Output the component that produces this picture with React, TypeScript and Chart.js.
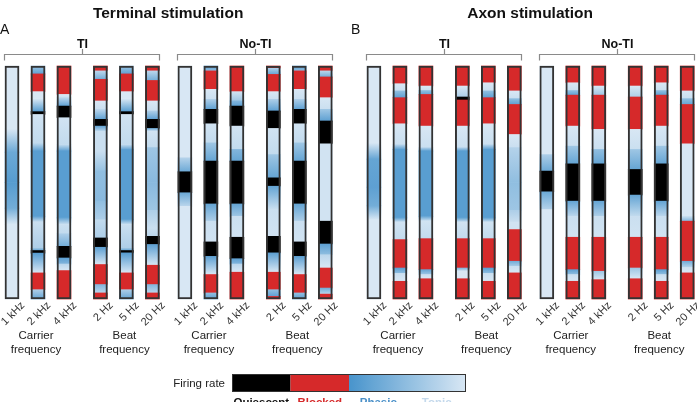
import React, { useEffect, useRef } from 'react';
import { Chart, registerables } from 'chart.js';
Chart.register(...registerables);

// Level codes: 'Q' = quiescent, 'B' = blocked, number 0..1 = phasic (0) .. tonic (1)
type Level = number | 'Q' | 'B';
// [end of segment (% of sweep, from top), level at top, level at bottom (optional)]
type Seg = [number, Level, Level?];

const panelTitles = ['Terminal stimulation', 'Axon stimulation'];
const panelLetters = ['A', 'B'];
const groupNames = ['TI', 'No-TI'];
const carrierTicks = ['1 kHz', '2 kHz', '4 kHz'];
const beatTicks = ['2 Hz', '5 Hz', '20 Hz'];
const subgroupNames = [['Carrier', 'frequency'], ['Beat', 'frequency']];
const legendTitle = 'Firing rate';
const legendLabels = ['Quiescent', 'Blocked', 'Phasic', 'Tonic'];

const terminalTI: Seg[][] = [
  [[27, 1], [37, 1, 0.25], [50, 0.25, 0.1], [61, 0.1, 0.3], [68, 0.3, 1], [100, 1]],
  [[3.4, 0.6, 0.15], [11, 'B'], [14, 1], [19.6, 1, 0.1], [20.8, 'Q'], [33, 0.95, 0.85], [36.5, 0.85, 0.15], [64.5, 0.12], [67, 0.15, 0.9], [78.3, 0.9, 0.7], [79.2, 0.5, 0.2], [80.3, 'Q'], [88.8, 0.1, 1], [96, 'B'], [100, 0.7, 0.2]],
  [[12.2, 'B'], [13.6, 1, 0.9], [17.2, 0.8, 0.15], [22.2, 'Q'], [33.7, 0.95, 0.85], [36.5, 0.85, 0.15], [65.2, 0.12], [68, 0.2, 0.9], [72, 0.9, 0.85], [77.4, 0.7, 0.3], [82.4, 'Q'], [85, 0.15, 0.4], [87.8, 0.8, 1], [100, 'B']],
  [[2.1, 'B'], [5.7, 0.8, 0.3], [15, 'B'], [18.6, 1, 0.9], [22.9, 0.8, 0.15], [25.8, 'Q'], [28, 0.2, 0.8], [36.5, 0.9], [45, 0.9, 0.55], [58, 0.5, 0.45], [66, 0.5, 0.7], [73.8, 0.85, 0.7], [77.8, 'Q'], [85.2, 0.15, 1], [93.8, 'B'], [97.4, 0.4, 0.8], [100, 'B']],
  [[3.4, 0.6, 0.15], [11, 'B'], [14, 1], [19.6, 1, 0.1], [20.8, 'Q'], [33.7, 0.95, 0.85], [36, 0.85, 0.15], [65.9, 0.12], [68, 0.2, 0.9], [78.3, 0.9, 0.7], [79.2, 0.5, 0.2], [80.2, 'Q'], [88.8, 0.1, 1], [96, 'B'], [100, 0.7, 0.2]],
  [[2.1, 'B'], [6.2, 0.8, 0.3], [15, 'B'], [19.3, 1, 0.9], [22.9, 0.7, 0.15], [26.8, 'Q'], [28, 0.3, 0.9], [35, 0.95, 0.85], [50, 0.6, 0.45], [62, 0.45, 0.6], [69.5, 0.7, 0.9], [73.1, 0.9, 0.8], [76.6, 'Q'], [85.5, 0.15, 1], [93.8, 'B'], [97.4, 0.4, 0.8], [100, 'B']],
];

const terminalNoTI: Seg[][] = [
  [[39.4, 1], [45.4, 0.75, 0.25], [54.4, 'Q'], [60.2, 0.25, 0.8], [100, 1]],
  [[2.1, 0.15, 0.5], [10, 'B'], [14.3, 1, 0.9], [18.6, 0.7, 0.15], [24.8, 'Q'], [33, 0.95, 0.85], [40.8, 0.6, 0.2], [59.2, 'Q'], [66.6, 0.2, 0.7], [75.5, 0.9, 0.95], [81.7, 'Q'], [89.5, 0.15, 1], [97.4, 'B'], [100, 0.5, 0.15]],
  [[11, 'B'], [15, 0.95, 0.6], [17.2, 0.4, 0.15], [25.8, 'Q'], [35.8, 0.95, 0.85], [40.8, 0.4, 0.2], [59.2, 'Q'], [64.5, 0.2, 0.6], [73.5, 0.9, 0.95], [82.7, 'Q'], [85, 0.15, 0.4], [88.5, 0.8, 1], [100, 'B']],
  [[1, 'B'], [3.6, 0.7, 0.2], [11, 'B'], [14.3, 1, 0.9], [19.3, 0.7, 0.15], [26.8, 'Q'], [38, 0.95, 0.85], [48, 0.6, 0.2], [51.6, 'Q'], [61.6, 0.2, 0.9], [73.1, 0.9, 0.95], [80.2, 'Q'], [88.5, 0.15, 1], [96, 'B'], [98.9, 0.5, 0.15], [100, 'B']],
  [[2.1, 0.15, 0.5], [10, 'B'], [14.3, 1, 0.9], [18.6, 0.7, 0.15], [24.8, 'Q'], [33, 0.95, 0.85], [40.8, 0.6, 0.2], [59.2, 'Q'], [66.6, 0.2, 0.7], [75.5, 0.9, 0.95], [81.7, 'Q'], [89.5, 0.15, 1], [97.4, 'B'], [100, 0.5, 0.15]],
  [[2.1, 'B'], [4.7, 0.8, 0.3], [13.6, 'B'], [18.6, 1, 0.9], [23.6, 0.6, 0.15], [33.4, 'Q'], [66.6, 0.95], [76.4, 'Q'], [81, 0.15, 0.5], [86.7, 0.8, 1], [95.3, 'B'], [97.9, 0.3, 0.8], [100, 'B']],
];

const axonTI: Seg[][] = [
  [[33, 1], [40, 1, 0.2], [52, 0.2, 0.15], [60, 0.15, 0.3], [66, 0.3, 1], [100, 1]],
  [[7.6, 'B'], [10.7, 1, 0.9], [13.6, 0.5, 0.15], [24.8, 'B'], [33.7, 1, 0.9], [35.8, 0.8, 0.15], [65.2, 0.12], [67, 0.2, 0.9], [74.5, 0.95, 0.85], [86.7, 'B'], [89, 0.15, 0.5], [92.4, 0.9, 1], [100, 'B']],
  [[8.6, 'B'], [10.5, 1, 0.9], [12.2, 0.5, 0.2], [25.8, 'B'], [35.1, 1, 0.9], [36.5, 0.7, 0.15], [64.5, 0.12], [66.5, 0.2, 0.9], [74.1, 0.95, 0.85], [87.4, 'B'], [89.5, 0.2, 0.6], [91.3, 0.9, 1], [100, 'B']],
  [[8.6, 'B'], [13.3, 1, 0.7], [14.6, 'Q'], [25.8, 'B'], [35.1, 1, 0.9], [36.5, 0.7, 0.15], [65.2, 0.12], [67, 0.2, 0.9], [74.1, 0.95, 0.85], [86.7, 'B'], [88, 0.4, 0.9], [91.3, 1], [100, 'B']],
  [[7.2, 'B'], [10.7, 1, 0.9], [13.6, 0.5, 0.15], [24.8, 'B'], [33.7, 1, 0.9], [35.8, 0.8, 0.15], [65.2, 0.12], [67, 0.2, 0.9], [74.1, 0.95, 0.85], [86.7, 'B'], [89, 0.15, 0.5], [92.4, 0.9, 1], [100, 'B']],
  [[10.7, 'B'], [14, 1, 0.9], [16.5, 0.5, 0.15], [29.4, 'B'], [35, 1, 0.9], [50, 0.75, 0.5], [62, 0.5, 0.6], [67, 0.7, 0.9], [70.2, 0.95], [83.8, 'B'], [86, 0.3, 0.7], [88.8, 0.9, 1], [100, 'B']],
];

const axonNoTI: Seg[][] = [
  [[38, 1], [45.1, 0.7, 0.25], [54, 'Q'], [61.6, 0.25, 0.75], [100, 1]],
  [[7.2, 'B'], [10.5, 1, 0.9], [12.5, 0.5, 0.15], [25.8, 'B'], [34.4, 1, 0.9], [42, 0.6, 0.2], [58, 'Q'], [64.5, 0.2, 0.8], [73.5, 0.9, 0.95], [87.4, 'B'], [89.5, 0.15, 0.5], [92.4, 0.9, 1], [100, 'B']],
  [[8.6, 'B'], [12.5, 1, 0.6], [27.2, 'B'], [35.8, 1, 0.9], [42, 0.5, 0.2], [58, 'Q'], [64.5, 0.2, 0.7], [73.5, 0.9, 0.95], [88.1, 'B'], [91.7, 0.6, 1], [100, 'B']],
  [[8.6, 'B'], [13.3, 1, 0.7], [27.2, 'B'], [35.8, 1, 0.9], [44.4, 0.6, 0.2], [55.4, 'Q'], [64.5, 0.2, 0.85], [73.5, 0.9, 0.95], [86.7, 'B'], [91.3, 0.6, 1], [100, 'B']],
  [[7.2, 'B'], [10.5, 1, 0.9], [12.5, 0.5, 0.15], [25.8, 'B'], [34.4, 1, 0.9], [42, 0.6, 0.2], [58, 'Q'], [64.5, 0.2, 0.8], [73.5, 0.9, 0.95], [87.4, 'B'], [89.5, 0.15, 0.5], [92.4, 0.9, 1], [100, 'B']],
  [[10.7, 'B'], [14, 1, 0.9], [16.5, 0.5, 0.2], [33.4, 'B'], [64.5, 1], [66.6, 0.9, 0.4], [83.8, 'B'], [86.5, 0.3, 0.8], [88.8, 0.95, 1], [100, 'B']],
];

// ---------- styling / layout ----------
const FONT = '"Liberation Sans", Arial, Helvetica, sans-serif';
const QUIESCENT = '#000000';
const BLOCKED = '#d6292a';
const PHASIC = [72, 148, 204];
const TONIC = [216, 231, 244];
const LEGEND_TEXT_COLORS = ['#111111', '#d6292a', '#4a90c8', '#c4d9ec'];
const SUB_GAP = 0.4;
const GROUP_GAP = 0.25;
const PANEL_STEP = 13.92;
const X_MIN = -12 / 26;
const X_MAX = X_MIN + 697 / 26;
const LETTER_X = [0, 351];

function levelColor(l: Level): string {
  if (l === 'Q') return QUIESCENT;
  if (l === 'B') return BLOCKED;
  const t = Math.max(0, Math.min(1, l as number));
  const c = PHASIC.map((p, i) => Math.round(p + (TONIC[i] - p) * t));
  return `rgb(${c[0]},${c[1]},${c[2]})`;
}

const panelData = [[terminalTI, terminalNoTI], [axonTI, axonNoTI]];
const columns: any[] = [];
panelData.forEach((groups, p) =>
  groups.forEach((bars, g) =>
    bars.forEach((segs, j) => {
      const i = g * 6 + j;
      const sub = Math.floor(j / 3);
      const x = p * PANEL_STEP + i + (i >= 3 ? SUB_GAP : 0) + (i >= 6 ? GROUP_GAP : 0) + (i >= 9 ? SUB_GAP : 0);
      columns.push({ panel: p, group: g, sub, x, label: (sub === 0 ? carrierTicks : beatTicks)[j % 3], segs });
    })
  )
);

const pieces: any[] = [];
columns.forEach((c) => {
  let start = 0;
  c.segs.forEach((s: Seg) => {
    pieces.push({ x: c.x, start, end: s[0], top: s[1], bottom: s.length > 2 && s[2] !== undefined ? s[2] : s[1] });
    start = s[0];
  });
});

const annotations = {
  id: 'annotations',
  afterDraw(chart: any) {
    const ctx = chart.ctx;
    const xs = chart.scales.x;
    const px = (v: number) => xs.getPixelForValue(v);
    ctx.save();
    ctx.textBaseline = 'alphabetic';
    panelTitles.forEach((title, p) => {
      const cols = columns.filter((c) => c.panel === p);
      const pl = px(cols[0].x) - 8;
      const pr = px(cols[cols.length - 1].x) + 7;
      ctx.fillStyle = '#111';
      ctx.font = `bold 15.5px ${FONT}`;
      ctx.textAlign = 'center';
      ctx.fillText(title, (pl + pr) / 2, 18);
      ctx.font = `14px ${FONT}`;
      ctx.textAlign = 'left';
      ctx.fillText(panelLetters[p], LETTER_X[p], 33.5);
      groupNames.forEach((gName, gi) => {
        const gc = cols.filter((c) => c.group === gi);
        const l = Math.round(px(gc[0].x) - 8) + 0.5;
        const r = Math.round(px(gc[gc.length - 1].x) + 7) + 0.5;
        const m = Math.round((l + r) / 2) + 0.5;
        ctx.strokeStyle = '#8a8a8a';
        ctx.lineWidth = 1.2;
        ctx.beginPath();
        ctx.moveTo(l, 60.5);
        ctx.lineTo(l, 54.5);
        ctx.lineTo(r, 54.5);
        ctx.lineTo(r, 60.5);
        ctx.moveTo(m, 54.5);
        ctx.lineTo(m, 49);
        ctx.stroke();
        ctx.fillStyle = '#111';
        ctx.font = `bold 12.5px ${FONT}`;
        ctx.textAlign = 'center';
        ctx.fillText(gName, m, 47.5);
        [0, 1].forEach((si) => {
          const sc = gc.filter((c) => c.sub === si);
          const cx = px(sc[1].x) - 2;
          ctx.font = `11.5px ${FONT}`;
          ctx.fillStyle = '#222';
          ctx.fillText(subgroupNames[si][0], cx, 338.5);
          ctx.fillText(subgroupNames[si][1], cx, 353);
        });
      });
    });

    // colour-bar legend
    const x0 = 232, x1 = 466, y0 = 374, y1 = 392;
    const w = (x1 - x0) / 4;
    ctx.fillStyle = QUIESCENT;
    ctx.fillRect(x0, y0, w, y1 - y0);
    ctx.fillStyle = BLOCKED;
    ctx.fillRect(x0 + w, y0, w, y1 - y0);
    const grad = ctx.createLinearGradient(x0 + 2 * w, 0, x1, 0);
    for (let k = 0; k <= 10; k++) grad.addColorStop(k / 10, levelColor(k / 10));
    ctx.fillStyle = grad;
    ctx.fillRect(x0 + 2 * w, y0, 2 * w, y1 - y0);
    ctx.strokeStyle = '#333';
    ctx.lineWidth = 1;
    ctx.strokeRect(x0 + 0.5, y0 + 0.5, x1 - x0 - 1, y1 - y0 - 1);
    ctx.font = `11.5px ${FONT}`;
    ctx.fillStyle = '#222';
    ctx.textAlign = 'right';
    ctx.fillText(legendTitle, 225, 387);
    ctx.font = `bold 11.5px ${FONT}`;
    ctx.textAlign = 'center';
    legendLabels.forEach((lab, k) => {
      ctx.fillStyle = LEGEND_TEXT_COLORS[k];
      ctx.fillText(lab, x0 + w * (k + 0.5), 405.5);
    });
    ctx.restore();
  },
};

export default function App() {
  const ref = useRef<HTMLCanvasElement>(null);
  useEffect(() => {
    const chart = new Chart(ref.current as HTMLCanvasElement, {
      type: 'bar',
      data: {
        datasets: [
          {
            label: 'outline',
            data: columns.map((c) => ({ x: c.x, y: [0, 100] })) as any,
            backgroundColor: 'rgba(0,0,0,0)',
            borderColor: '#333333',
            borderWidth: 1.3,
            borderSkipped: false,
            grouped: false,
            barThickness: 14,
            clip: false as any,
          },
          {
            label: 'firing',
            data: pieces.map((p) => ({ x: p.x, y: [p.start, p.end] })) as any,
            backgroundColor: (c: any) => {
              const s = pieces[c.dataIndex];
              if (!s) return 'rgba(0,0,0,0)';
              if (typeof s.top === 'string' || s.top === s.bottom) return levelColor(s.top);
              const ys = c.chart.scales && c.chart.scales.y;
              if (!ys) return levelColor(s.top);
              const g = c.chart.ctx.createLinearGradient(0, ys.getPixelForValue(s.start), 0, ys.getPixelForValue(s.end));
              g.addColorStop(0, levelColor(s.top));
              g.addColorStop(1, levelColor(s.bottom));
              return g;
            },
            borderWidth: 0,
            grouped: false,
            barThickness: 14,
            clip: false as any,
          },
        ],
      },
      options: {
        animation: false,
        responsive: false,
        devicePixelRatio: 1,
        events: [],
        layout: { autoPadding: false, padding: { top: 66, bottom: 63, left: 0, right: 0 } },
        plugins: { legend: { display: false }, tooltip: { enabled: false }, title: { display: false } },
        scales: {
          x: {
            type: 'linear',
            min: X_MIN,
            max: X_MAX,
            offset: false,
            bounds: 'data',
            grid: { display: false, drawTicks: false, offset: false },
            border: { display: false },
            afterBuildTicks: (scale: any) => {
              scale.ticks = columns.map((c) => ({ value: c.x }));
            },
            afterFit: (scale: any) => {
              scale.height = 40;
              scale.paddingLeft = 0;
              scale.paddingRight = 0;
            },
            ticks: {
              autoSkip: false,
              minRotation: 45,
              maxRotation: 45,
              padding: 0,
              labelOffset: 11,
              color: '#333',
              font: { family: FONT, size: 11 },
              callback: (_v: any, i: number) => columns[i] ? columns[i].label : '',
            },
          },
          y: { type: 'linear', min: 0, max: 100, reverse: true, display: false },
        },
      } as any,
      plugins: [annotations],
    });
    return () => chart.destroy();
  }, []);
  return (
    <div style={{ position: 'absolute', left: 0, top: 0, width: 697, height: 402, background: '#fff', overflow: 'hidden' }}>
      <canvas ref={ref} width={697} height={402} style={{ display: 'block', width: 697, height: 402 }} />
    </div>
  );
}
